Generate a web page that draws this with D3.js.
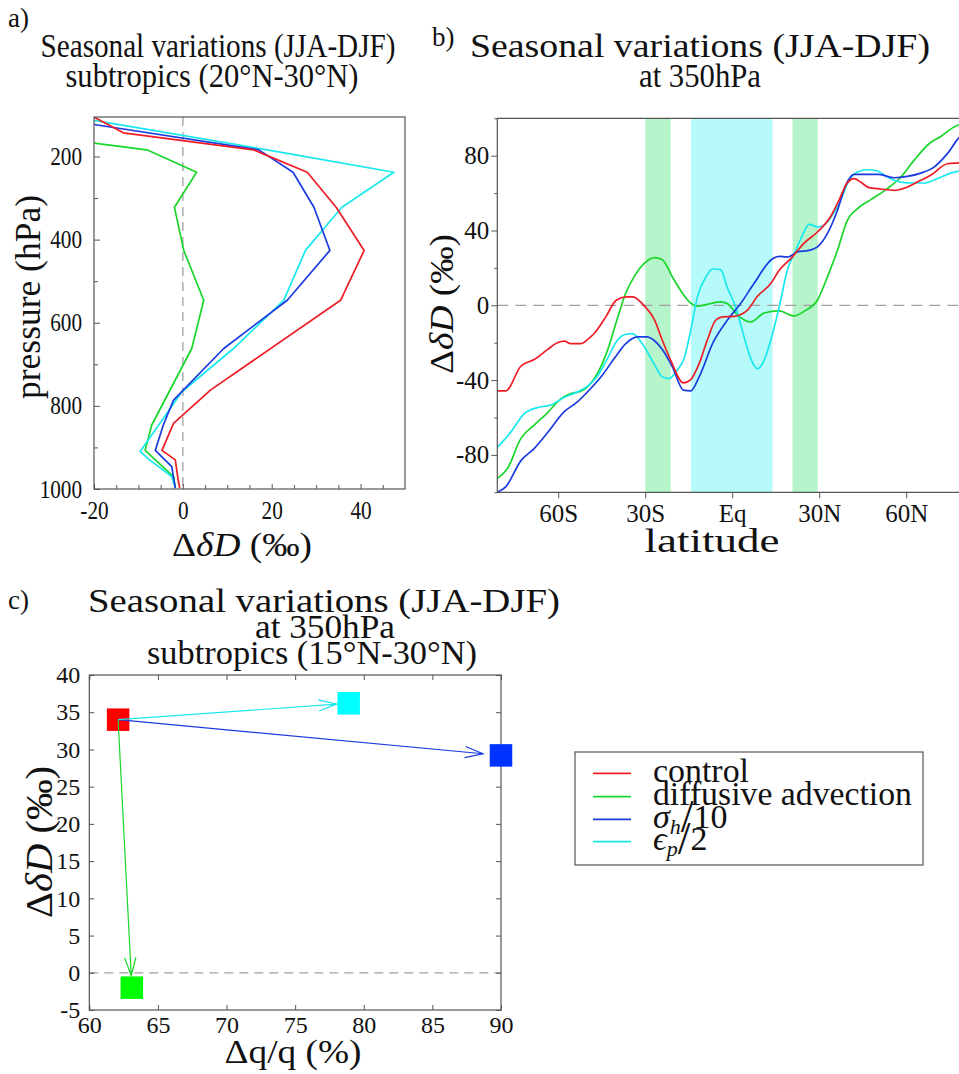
<!DOCTYPE html>
<html><head><meta charset="utf-8">
<script src="https://cdn.jsdelivr.net/npm/d3@7"></script>
<style>
body{margin:0;background:#fff;}
svg{display:block;}
svg text{font-family:"Liberation Serif","Times New Roman",Times,serif !important;fill:#111;}
</style>
</head><body>
<svg id="c" width="959" height="1074"></svg>
<script>
// ---------- DATA ----------
const seriesNames = ["control","diffusive advection","sigma_h/10","eps_p/2"];
const seriesColors = ["#ee1c24","#19d62a","#1a3be0","#19e8ee"];

// panel a: pressure (hPa) and ΔδD (‰) per series
const presA_control = [105,143,184,238,322,426,546,762,842,907,930,982,998];
const valA_control  = [-20,-13.4,15.9,28,34.5,40.8,35.5,6.2,-2.1,-4.7,-1.7,-1.0,-0.7];
const presA_diff    = [168,184,238,322,426,546,662,846,907,970,998];
const valA_diff     = [-20,-8.1,3.1,-1.9,0.2,4.7,2.0,-7.0,-8.5,-2.1,-1.7];
const presA_sigma   = [123,184,238,322,426,546,662,786,846,907,946,998];
const valA_sigma    = [-20,17.1,24.8,29.5,33.1,23.5,9.2,-2.1,-4.4,-6.2,-2.5,-1.7];
const presA_eps     = [113,184,238,322,426,546,662,766,910,930,970,998];
const valA_eps      = [-20,19,47.5,35.8,27.6,22.7,11.4,-0.2,-9.6,-7.5,-2.5,-1.7];
const presTicksA = [200,400,600,800,1000];
const xTicksA = [-20,0,20,40];

// panel b: [latitude, ΔδD] per series at 350 hPa
const latB_control = [[-81,-45.8],[-78.1,-45.8],[-72.9,-32.6],[-68.3,-29.0],[-63.7,-23.7],[-60.3,-20.0],[-57.8,-19.2],[-55.7,-20.5],[-52.2,-20.5],[-49.5,-17.8],[-47.6,-15.1],[-43.6,-6.2],[-40.0,2.7],[-36.6,4.5],[-34.4,4.5],[-29.8,-1.2],[-27.0,-7.1],[-24.1,-18.7],[-21.2,-29.4],[-16.8,-41.5],[-14.3,-39.7],[-11.4,-31.2],[-8.6,-18.7],[-5.7,-8.0],[-3.3,-6.2],[0.6,-5.9],[2.4,-5.3],[5.2,-2.7],[8.7,4.8],[13.3,11.6],[16.2,18.7],[20.7,25.8],[24.8,33.3],[29.4,39.2],[34.0,47.6],[36.8,56.1],[39.5,65.0],[42.0,67.7],[44.3,65.9],[47.2,62.9],[51.2,62.2],[55.8,61.5],[59.8,62.9],[63.8,65.9],[68.4,69.5],[74.2,75.7],[78.5,76.2],[81,76.5]];
const latB_diff = [[-81,-92.6],[-77.5,-87.3],[-72.9,-71.3],[-68.3,-64.1],[-63.7,-57.5],[-59.7,-50.8],[-55.7,-47.2],[-52.2,-46.0],[-49.4,-42.8],[-46.5,-36.5],[-43.0,-24.1],[-39.6,-7.1],[-36.7,6.6],[-33.9,15.1],[-30.4,22.3],[-26.7,25.5],[-24.1,24.4],[-20.6,15.1],[-17.2,6.6],[-14.3,1.2],[-12.0,-0.5],[-8.6,0.5],[-4.0,1.8],[-1.7,0.9],[2.0,-5.5],[6.4,-8.9],[11.0,-4.1],[16.2,-3.0],[21.3,-5.7],[25.3,-2.7],[29.4,2.7],[32.8,15.1],[36.3,29.4],[39.7,45.4],[43.2,51.7],[47.8,56.5],[53.5,62.4],[58.2,68.6],[62.7,77.5],[67.9,86.4],[71.9,90.3],[76.5,95.3],[78.5,96.7],[81,98]];
const latB_sigma = [[-81,-100],[-78.1,-97.1],[-72.9,-83.2],[-68.3,-76.6],[-63.7,-68.2],[-58.0,-57.0],[-53.4,-51.7],[-48.8,-44.5],[-44.8,-37.4],[-40.7,-28.5],[-36.7,-20.5],[-32.7,-16.9],[-29.3,-16.9],[-27.0,-18.7],[-24.1,-23.7],[-20.6,-33.0],[-16.8,-45.4],[-14.3,-45.8],[-11.4,-38.3],[-6.5,-19.6],[-1.7,-8.0],[2.9,0.9],[7.5,11.6],[13.9,24.9],[16.2,26.2],[19.0,25.8],[22.5,28.5],[26.5,29.4],[29.4,31.2],[32.8,38.3],[36.3,50.8],[39.1,64.1],[42.0,70.0],[46.6,70.0],[50.6,70.0],[55.8,68.2],[60.4,68.9],[65.0,70.7],[69.6,73.9],[74.2,81.1],[78.5,90.0],[81,92]];
const latB_eps = [[-81,-76],[-76.3,-67.7],[-71.7,-57.9],[-67.2,-54.7],[-62.6,-53.4],[-58.0,-49.3],[-53.4,-46.3],[-49.9,-43.3],[-46.5,-37.9],[-43.0,-28.5],[-39.6,-18.7],[-36.7,-15.5],[-34.4,-15.1],[-31.0,-20.5],[-27.0,-31.2],[-24.1,-38.3],[-21.8,-39.2],[-19.0,-34.7],[-16.6,-28.5],[-14.3,-13.4],[-12.0,4.5],[-9.1,15.1],[-6.8,19.4],[-4.0,19.1],[-1.7,9.5],[1.2,-1.0],[4.1,-16.9],[6.4,-28.5],[8.7,-33.9],[11.0,-29.4],[13.3,-18.7],[16.2,-0.9],[19.0,18.7],[21.9,29.4],[24.2,37.4],[26.5,43.3],[29.4,41.9],[31.7,42.8],[34.5,48.1],[37.4,56.1],[40.3,66.8],[43.2,71.3],[46.6,72.5],[50.1,71.8],[53.5,68.6],[58.1,65.9],[62.7,65.4],[66.1,65.4],[70.7,67.7],[75.3,70.7],[78.5,71.8],[81,72]];
const bandsB = [[-30,-21.2,"#b6f5cb"],[-14.2,13.9,"#b7fafa"],[20.8,29.5,"#b6f5cb"]];
const latTicksB = [-60,-30,0,30,60];
const latLabelsB = ["60S","30S","Eq","30N","60N"];
const yTicksB = [-80,-40,0,40,80];

// panel c: Δq/q (%) and ΔδD (‰): control, diffusive, sigma_h/10, eps_p/2
const dqC = [62.1, 63.1, 90.0, 78.9];
const ddC = [34.0, -2.0, 29.2, 36.2];
const markerColorsC = ["#ff0000","#00ff00","#0033ff","#00ffff"];
const xTicksC = [60,65,70,75,80,85,90];
const yTicksC = [-5,0,5,10,15,20,25,30,35,40];

// ---------- DRAW ----------
const svg = d3.select("#c");
const AX = "#555";
const fmt = d => String(d);

function styleAxis(g, fs, k){
  g.attr("font-family",null);
  g.select(".domain").remove();
  g.selectAll(".tick line").attr("stroke",AX).attr("stroke-width",1);
  g.selectAll("text").attr("font-size",fs).attr("fill","#111");
  if(k) g.selectAll("text").attr("transform",`scale(${k},1)`);
}
function ddLabel(sel){ // ΔδD (‰)
  sel.append("tspan").text("Δ");
  sel.append("tspan").attr("font-style","italic").text("δD");
  sel.append("tspan").text(" (‰)");
}

// ===== panel a =====
const ax = d3.scaleLinear().domain([-20,50]).range([94,405]);
const ay = d3.scaleLinear().domain([105,1000]).range([117,489]);
const gA = svg.append("g");
svg.append("clipPath").attr("id","clipA").append("rect")
  .attr("x",ax(-20)).attr("y",ay(105)).attr("width",ax(50)-ax(-20)).attr("height",ay(1000)-ay(105));
gA.append("line").attr("x1",ax(0)).attr("x2",ax(0)).attr("y1",ay(105)).attr("y2",ay(1000))
  .attr("stroke","#a0a0a0").attr("stroke-width",1.3).attr("stroke-dasharray","9,6");
const seriesA = [[presA_control,valA_control],[presA_diff,valA_diff],[presA_sigma,valA_sigma],[presA_eps,valA_eps]];
const lineA = d3.line().x(d=>ax(d[1])).y(d=>ay(d[0]));
[1,3,2,0].forEach(i=>{
  const [p,v]=seriesA[i];
  gA.append("path").attr("clip-path","url(#clipA)").attr("d",lineA(p.map((pp,j)=>[pp,v[j]])))
    .attr("fill","none").attr("stroke",seriesColors[i]).attr("stroke-width",1.7).attr("stroke-linejoin","round");
});
gA.append("rect").attr("x",ax(-20)).attr("y",ay(105)).attr("width",ax(50)-ax(-20)).attr("height",ay(1000)-ay(105))
  .attr("fill","none").attr("stroke",AX).attr("stroke-width",1.2);
let g;
g = gA.append("g").attr("transform",`translate(${ax(-20)},0)`)
  .call(d3.axisLeft(ay).tickValues(presTicksA).tickSize(-6).tickPadding(14).tickFormat(fmt));
styleAxis(g,25,0.85);
g = gA.append("g").attr("transform",`translate(${ax(-20)},0)`)
  .call(d3.axisLeft(ay).tickValues(d3.range(200,1000,100).filter(d=>!presTicksA.includes(d))).tickSize(-4).tickFormat(""));
styleAxis(g,10);
g = gA.append("g").attr("transform",`translate(0,${ay(1000)})`)
  .call(d3.axisBottom(ax).tickValues(xTicksA).tickSize(-5).tickPadding(12).tickFormat(fmt));
styleAxis(g,25,0.85);
g = gA.append("g").attr("transform",`translate(0,${ay(1000)})`)
  .call(d3.axisBottom(ax).tickValues(d3.range(-15,50,5).filter(d=>!xTicksA.includes(d))).tickSize(-4).tickFormat(""));
styleAxis(g,10);

gA.append("text").attr("transform","translate(40,297) rotate(-90)").attr("text-anchor","middle")
  .attr("font-size",36).attr("textLength",204).attr("lengthAdjust","spacingAndGlyphs").text("pressure (hPa)");
ddLabel(gA.append("text").attr("x",242).attr("y",556).attr("text-anchor","middle").attr("font-size",34)
  .attr("textLength",140).attr("lengthAdjust","spacingAndGlyphs"));

function title(x,y,w,txt,fs){
  svg.append("text").attr("x",x).attr("y",y).attr("text-anchor","middle").attr("font-size",fs||33)
   .attr("textLength",w).attr("lengthAdjust","spacingAndGlyphs").text(txt);
}
svg.append("text").attr("x",8).attr("y",27).attr("font-size",27).text("a)");
title(218,57,355,"Seasonal variations (JJA-DJF)");
title(212,87,293,"subtropics (20°N-30°N)");

// ===== panel b =====
const bx = d3.scaleLinear().domain([-81,81]).range([497.3,967.1]);
const by = d3.scaleLinear().domain([-100,100]).range([492.3,118.3]);
const gB = svg.append("g");
svg.append("clipPath").attr("id","clipB").append("rect")
  .attr("x",bx(-81)).attr("y",by(100)).attr("width",bx(81)-bx(-81)).attr("height",by(-100)-by(100));
gB.selectAll("rect.band").data(bandsB).join("rect").attr("class","band")
  .attr("x",d=>bx(d[0])).attr("width",d=>bx(d[1])-bx(d[0])).attr("y",by(100)).attr("height",by(-100)-by(100))
  .attr("fill",d=>d[2]);
gB.append("line").attr("x1",bx(-81)).attr("x2",bx(81)).attr("y1",by(0)).attr("y2",by(0))
  .attr("stroke","#a0a0a0").attr("stroke-width",1.3).attr("stroke-dasharray","11,7");
const seriesB=[latB_control,latB_diff,latB_sigma,latB_eps];
const lineB = d3.line().x(d=>bx(d[0])).y(d=>by(d[1])).curve(d3.curveMonotoneX);
[1,3,2,0].forEach(i=>{
  gB.append("path").attr("clip-path","url(#clipB)").attr("d",lineB(seriesB[i]))
   .attr("fill","none").attr("stroke",seriesColors[i]).attr("stroke-width",1.7);
});
gB.append("path").attr("d",`M${bx(81)},${by(100)}H${bx(-81)}V${by(-100)}H${bx(81)}`)
  .attr("fill","none").attr("stroke",AX).attr("stroke-width",1.2);
g = gB.append("g").attr("transform",`translate(${bx(-81)},0)`)
  .call(d3.axisLeft(by).tickValues(yTicksB).tickSize(6).tickPadding(2).tickFormat(fmt));
styleAxis(g,25);
g = gB.append("g").attr("transform",`translate(${bx(-81)},0)`)
  .call(d3.axisLeft(by).tickValues([-100,-60,-20,20,60,100]).tickSize(3).tickFormat(""));
styleAxis(g,10);
g = gB.append("g").attr("transform",`translate(0,${by(-100)})`)
  .call(d3.axisBottom(bx).tickValues(latTicksB).tickSize(6).tickPadding(6).tickFormat((d,i)=>latLabelsB[i]));
styleAxis(g,25);
gB.append("text").attr("x",712).attr("y",552).attr("text-anchor","middle").attr("font-size",33)
  .attr("textLength",135).attr("lengthAdjust","spacingAndGlyphs").text("latitude");
ddLabel(gB.append("text").attr("transform","translate(453,304) rotate(-90)").attr("text-anchor","middle")
  .attr("font-size",34).attr("textLength",140).attr("lengthAdjust","spacingAndGlyphs"));
svg.append("text").attr("x",432).attr("y",46).attr("font-size",27).text("b)");
title(700,57,460,"Seasonal variations (JJA-DJF)");
title(700,87,122,"at 350hPa");

// ===== panel c =====
const cx = d3.scaleLinear().domain([60,90]).range([89.3,501]);
const cy = d3.scaleLinear().domain([-5,40]).range([1010,675]);
const gC = svg.append("g");
gC.append("line").attr("x1",cx(60)).attr("x2",cx(90)).attr("y1",cy(0)).attr("y2",cy(0))
  .attr("stroke","#a0a0a0").attr("stroke-width",1.2).attr("stroke-dasharray","9,6");
gC.append("rect").attr("x",cx(60)).attr("y",cy(40)).attr("width",cx(90)-cx(60)).attr("height",cy(-5)-cy(40))
  .attr("fill","none").attr("stroke",AX).attr("stroke-width",1.2);
g = gC.append("g").attr("transform",`translate(${cx(60)},0)`)
  .call(d3.axisLeft(cy).tickValues(yTicksC).tickSize(-5).tickPadding(9).tickFormat(fmt));
styleAxis(g,24);
g = gC.append("g").attr("transform",`translate(${cx(90)},0)`)
  .call(d3.axisRight(cy).tickValues(yTicksC).tickSize(-5).tickFormat(""));
styleAxis(g,10);
g = gC.append("g").attr("transform",`translate(0,${cy(-5)})`)
  .call(d3.axisBottom(cx).tickValues(xTicksC).tickSize(-5).tickPadding(6).tickFormat(fmt));
styleAxis(g,24);
g = gC.append("g").attr("transform",`translate(0,${cy(40)})`)
  .call(d3.axisTop(cx).tickValues(xTicksC).tickSize(-5).tickFormat(""));
styleAxis(g,10);

// arrows from control to each experiment
const arrowColors = [null,"#19d62a","#1a3be0","#19e8ee"];
const sq=22.5;
gC.selectAll("rect.m").data(dqC.map((d,i)=>i)).join("rect").attr("class","m")
  .attr("x",i=>cx(dqC[i])-sq/2).attr("y",i=>cy(ddC[i])-sq/2).attr("width",sq).attr("height",sq)
  .attr("fill",i=>markerColorsC[i]);
[1,2,3].forEach(i=>{
  const x0=cx(dqC[0]), y0=cy(ddC[0]), x1=cx(dqC[i]), y1=cy(ddC[i]);
  const L=Math.hypot(x1-x0,y1-y0), ux=(x1-x0)/L, uy=(y1-y0)/L;
  const off = i===2?18:12;
  const tx=x1-ux*off, ty=y1-uy*off;
  const hl=19, a=0.3;
  const c=Math.cos(a), s=Math.sin(a);
  const h1=[tx-hl*(ux*c-uy*s), ty-hl*(uy*c+ux*s)];
  const h2=[tx-hl*(ux*c+uy*s), ty-hl*(uy*c-ux*s)];
  gC.append("path").attr("d",`M${x0},${y0}L${tx},${ty}M${h1[0]},${h1[1]}L${tx},${ty}L${h2[0]},${h2[1]}`)
    .attr("fill","none").attr("stroke",arrowColors[i]).attr("stroke-width",1.2);
});

ddLabel(gC.append("text").attr("transform","translate(52,842) rotate(-90)").attr("text-anchor","middle")
  .attr("font-size",38).attr("textLength",152).attr("lengthAdjust","spacingAndGlyphs"));
gC.append("text").attr("x",293).attr("y",1063).attr("text-anchor","middle").attr("font-size",34)
  .attr("textLength",137).attr("lengthAdjust","spacingAndGlyphs").text("Δq/q (%)");
svg.append("text").attr("x",8).attr("y",609).attr("font-size",27).text("c)");
title(324,612,472,"Seasonal variations (JJA-DJF)");
title(325,638,140,"at 350hPa");
title(312,664,330,"subtropics (15°N-30°N)");

// legend
const lg = svg.append("g");
lg.append("rect").attr("x",575).attr("y",752).attr("width",348).attr("height",113)
  .attr("fill","#fff").attr("stroke",AX).attr("stroke-width",1.2);
const legY=[773.3,796.7,819.3,841.7];
legY.forEach((y,i)=>{
  lg.append("line").attr("x1",593).attr("x2",631).attr("y1",y).attr("y2",y)
    .attr("stroke",seriesColors[i]).attr("stroke-width",1.7);
});
lg.append("text").attr("x",653).attr("y",782).attr("font-size",34).attr("textLength",96).attr("lengthAdjust","spacingAndGlyphs").text("control");
lg.append("text").attr("x",653).attr("y",805).attr("font-size",34).attr("textLength",259).attr("lengthAdjust","spacingAndGlyphs").text("diffusive advection");
const t3 = lg.append("text").attr("x",653).attr("y",828).attr("font-size",34);
t3.append("tspan").attr("font-style","italic").text("σ");
t3.append("tspan").attr("font-style","italic").attr("font-size",22).attr("dy",6).text("h");
t3.append("tspan").attr("font-size",46).attr("dy",-2).text("/");
t3.append("tspan").attr("dy",-4).text("10");
const t4 = lg.append("text").attr("x",653).attr("y",850).attr("font-size",34);
t4.append("tspan").attr("font-style","italic").text("ϵ");
t4.append("tspan").attr("font-style","italic").attr("font-size",22).attr("dy",6).text("p");
t4.append("tspan").attr("font-size",46).attr("dy",-2).text("/");
t4.append("tspan").attr("dy",-4).text("2");
</script>
</body></html>
